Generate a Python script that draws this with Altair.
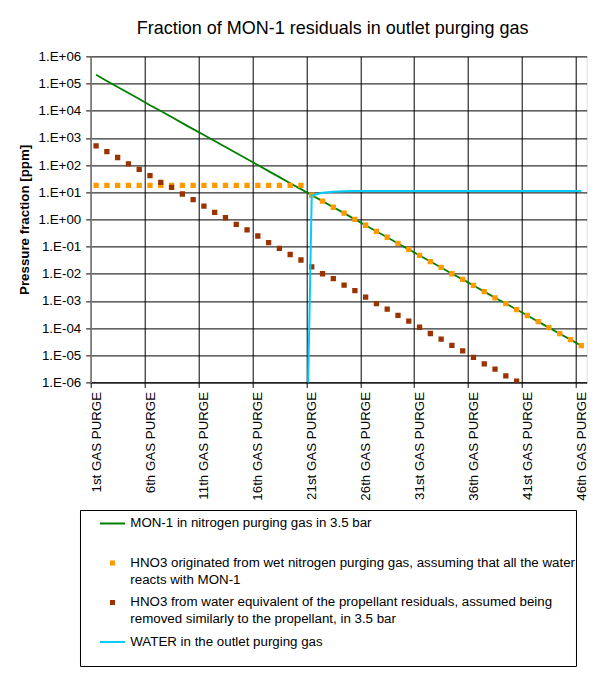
import json
import altair as alt
import pandas as pd

# ---------------- data ----------------
title_text = "Fraction of MON-1 residuals in outlet purging gas"
y_title = "Pressure fraction [ppm]"

x_labels = ["1st GAS PURGE", "6th GAS PURGE", "11th GAS PURGE", "16th GAS PURGE",
            "21st GAS PURGE", "26th GAS PURGE", "31st GAS PURGE", "36th GAS PURGE",
            "41st GAS PURGE", "46th GAS PURGE"]
y_labels = ["1.E-06", "1.E-05", "1.E-04", "1.E-03", "1.E-02", "1.E-01", "1.E+00",
            "1.E+01", "1.E+02", "1.E+03", "1.E+04", "1.E+05", "1.E+06"]

series_names = [
    "MON-1 in nitrogen purging gas in 3.5 bar",
    "HNO3 originated from wet nitrogen purging gas, assuming that all the water reacts with MON-1",
    "HNO3 from water equivalent of the propellant residuals, assumed being removed similarly to the propellant, in 3.5 bar",
    "WATER in the outlet purging gas",
]
legend_lines = [
    ["MON-1 in nitrogen purging gas in 3.5 bar", ""],
    ["HNO3 originated from wet nitrogen purging gas, assuming that all the water",
     "reacts with MON-1"],
    ["HNO3 from water equivalent of the propellant residuals, assumed being",
     "removed similarly to the propellant, in 3.5 bar"],
    ["WATER in the outlet purging gas", ""],
]
colors = ["#008000", "#FF9900", "#993300", "#00CCFF"]

purge = list(range(1, 47))
mon1 = [2.1e5, 1.25e5, 7.5e4, 4.5e4, 2.7e4, 1.6e4, 9.8e3, 5.9e3, 3.5e3, 2.1e3,
        1.27e3, 770, 460, 280, 166, 100, 60, 36, 21.5, 13,
        7.8, 4.7, 2.8, 1.7, 1.0, 0.61, 0.36, 0.22, 0.13, 0.079,
        0.047, 0.028, 0.017, 0.010, 0.0062, 0.0037, 0.0022, 0.0013, 8.0e-4, 4.8e-4,
        2.9e-4, 1.73e-4, 1.04e-4, 6.2e-5, 3.75e-5, 2.25e-5]
hno3_wet = [18, 18, 18, 18, 18, 18, 18, 18, 18, 18,
            18, 18, 18, 18, 18, 18, 18, 18, 18, 18,
            7.8, 4.7, 2.8, 1.7, 1.0, 0.61, 0.36, 0.22, 0.13, 0.079,
            0.047, 0.028, 0.017, 0.010, 0.0062, 0.0037, 0.0022, 0.0013, 8.0e-4, 4.8e-4,
            2.9e-4, 1.73e-4, 1.04e-4, 6.2e-5, 3.75e-5, 2.25e-5]
hno3_res = [510, 310, 190, 110, 69, 41, 23, 15, 8.6, 5.3,
            3.1, 1.8, 1.15, 0.66, 0.41, 0.245, 0.14, 0.086, 0.051, 0.032,
            0.018, 0.010, 0.0066, 0.0038, 0.0024, 0.00138, 7.9e-4, 5.0e-4, 2.95e-4, 1.8e-4,
            1.07e-4, 6.3e-5, 3.9e-5, 2.3e-5, 1.45e-5, 8.3e-6, 4.8e-6, 3.1e-6, 1.74e-6, 1.1e-6]
water_purge = list(range(20, 47))
water = [1e-20, 7.5, 9.5, 10.4, 10.8, 11, 11, 11, 11, 11,
         11, 11, 11, 11, 11, 11, 11, 11, 11, 11,
         11, 11, 11, 11, 11, 11, 11]

rows = []
for p, v in zip(purge, mon1):
    rows.append({"purge": p, "value": v, "series": series_names[0]})
for p, v in zip(purge, hno3_wet):
    rows.append({"purge": p, "value": v, "series": series_names[1]})
for p, v in zip(purge, hno3_res):
    rows.append({"purge": p, "value": v, "series": series_names[2]})
for p, v in zip(water_purge, water):
    rows.append({"purge": p, "value": v, "series": series_names[3]})
df = pd.DataFrame(rows)

# ---------------- encodings ----------------
FONT = "Liberation Sans"
FS = 13.33
step = 5
x_tick_vals = [i * step + 0.5 for i in range(len(x_labels))]
y_tick_vals = [float(s) for s in y_labels]
y_off = len(y_labels) // 2

x_enc = alt.X(
    "purge:Q",
    scale=alt.Scale(domain=[0.5, len(purge) + 0.5], nice=False, zero=False),
    axis=alt.Axis(
        values=x_tick_vals,
        labelExpr=f"{json.dumps(x_labels)}[round((datum.value - 0.5) / {step})]",
        labelAngle=-90, labelOffset=5.4, labelPadding=4,
        labelFontSize=FS, labelFont=FONT, labelColor="black",
        grid=True, gridColor="black", gridWidth=1, gridOpacity=1,
        ticks=True, tickSize=5, tickColor="black",
        domainColor="black", title=None, labelOverlap=False,
    ),
)
y_enc = alt.Y(
    "value:Q",
    scale=alt.Scale(type="log", domain=[y_tick_vals[0], y_tick_vals[-1]], nice=False),
    axis=alt.Axis(
        values=y_tick_vals,
        labelExpr=f"{json.dumps(y_labels)}[round(log(datum.value) / LN10) + {y_off}]",
        labelFontSize=FS, labelFont=FONT, labelColor="black", labelPadding=5,
        grid=True, gridColor="black", gridWidth=1, gridOpacity=1,
        ticks=True, tickSize=5, tickColor="black",
        domainColor="#808080", domainWidth=1.5,
        title=y_title, titleFont=FONT, titleFontSize=FS, titleFontWeight="bold",
        titleColor="black", titlePadding=7, labelOverlap=False,
    ),
)

color_scale = alt.Scale(domain=series_names, range=colors)
line_path = "M-1,-0.08H1V0.08H-1Z"
sq_path = "M-0.2,-0.2H0.2V0.2H-0.2Z"
shape_scale = alt.Scale(domain=series_names, range=[line_path, sq_path, sq_path, line_path])

legend_expr = (f"{json.dumps(legend_lines)}"
               f"[indexof({json.dumps(series_names)}, datum.label)]")
legend = alt.Legend(
    orient="none", legendX=-10.7, legendY=453.6, title=None,
    labelExpr=legend_expr, labelFont=FONT, labelFontSize=FS, labelColor="black",
    labelLimit=700, symbolSize=625, symbolOffset=19, labelOffset=4.3,
    strokeColor="black", padding=0, rowPadding=2.5, direction="vertical",
    symbolOpacity=1,
)

base = alt.Chart(df).encode(x=x_enc, y=y_enc)

mon_line = base.transform_filter(alt.datum.series == series_names[0]).mark_line(
    strokeWidth=1.8, clip=True, color=colors[0]
)

water_line = base.transform_filter(alt.datum.series == series_names[3]).mark_line(
    strokeWidth=2, clip=True, color=colors[3]
)

squares = base.transform_filter(
    (alt.datum.series == series_names[1]) | (alt.datum.series == series_names[2])
).mark_point(filled=True, size=702, opacity=1, clip=True).encode(
    color=alt.Color("series:N", scale=color_scale, legend=legend),
    shape=alt.Shape("series:N", scale=shape_scale, legend=legend),
)

chart = alt.layer(mon_line, squares, water_line).properties(
    width=496, height=326,
    title=alt.TitleParams(title_text, font=FONT, fontSize=18, fontWeight="normal",
                          color="black", anchor="middle", offset=11, dx=-6),
    padding={"left": 82.7, "top": 48.4, "right": 13, "bottom": 293},
    autosize=alt.AutoSizeParams(type="none"),
).configure_view(stroke="#808080", strokeWidth=1).configure(
    background="white", style={"guide-label": {"lineHeight": 16.7}}
)

chart.save("out.html", embed_options={"renderer": "svg", "actions": False})
